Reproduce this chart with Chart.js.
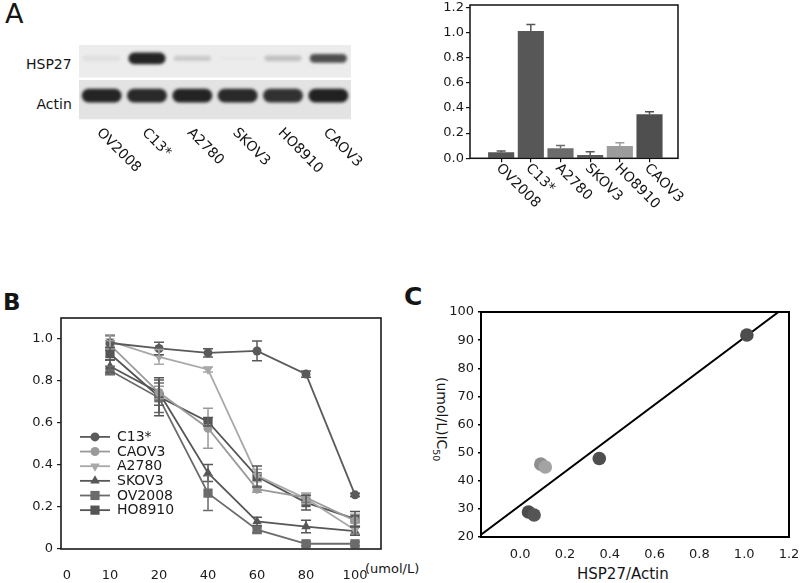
<!DOCTYPE html>
<html><head><meta charset="utf-8">
<script src="https://cdn.jsdelivr.net/npm/chart.js"></script>
<style>
html,body{margin:0;padding:0;background:#fff}
body{width:800px;height:583px;position:relative;overflow:hidden;font-family:"DejaVu Sans",sans-serif;color:#151515}
canvas{position:absolute}
.t{position:absolute;white-space:nowrap;line-height:1}
</style></head><body>
<div class="t" style="left:5px;top:0px;font-size:27px">A</div>
<div class="t" style="left:3px;top:290.6px;font-size:23px;font-weight:bold">B</div>
<div class="t" style="left:404px;top:283.8px;font-size:25px;font-weight:bold">C</div>
<div class="t" style="left:26px;top:56.7px;font-size:14px">HSP27</div>
<div class="t" style="left:36.5px;top:96.7px;font-size:14px">Actin</div>
<div class="t" style="left:365px;top:561.8px;font-size:13px">(umol/L)</div>
<div class="t" style="left:577px;top:567.2px;font-size:15px">HSP27/Actin</div>
<div class="t" style="left:448.6px;top:377px;font-size:14px;transform:rotate(90deg);transform-origin:0 0">(umol/L)IC<sub style="font-size:9.5px">50</sub></div>
<canvas id="blot" width="330" height="135" style="left:79px;top:45px"></canvas>
<canvas id="bar" width="260" height="220" style="left:430px;top:0px"></canvas>
<canvas id="dose" width="400" height="283" style="left:0px;top:300px"></canvas>
<canvas id="corr" width="400" height="293" style="left:400px;top:290px"></canvas>
<script>
// ---------- data ----------
const cellLines = ['OV2008','C13*','A2780','SKOV3','HO8910','CAOV3'];
// western blot band darkness (0..1) and HSP27 band thickness (row units)
const hsp27Band = [0.06, 0.95, 0.16, 0.02, 0.2, 0.75];
const hsp27BandSize = [0.14, 0.32, 0.14, 0.1, 0.15, 0.24];
const actinBand = [0.92, 0.9, 0.93, 0.9, 0.86, 0.94];
// HSP27/Actin ratio
const hsp27Ratio = [0.048, 1.011, 0.079, 0.026, 0.098, 0.349];
const hsp27Err = [0.01, 0.052, 0.022, 0.026, 0.026, 0.02];
// dose-response
const doseLabels = ['0','10','20','40','60','80','100'];
const seriesNames = ['C13*','CAOV3','A2780','SKOV3','OV2008','HO8910'];
const c13Viab    = [0.981, 0.955, 0.934, 0.943, 0.833, 0.258];
const caov3Viab  = [0.972, 0.745, 0.575, 0.285, 0.245, 0.135];
const a2780Viab  = [0.990, 0.915, 0.855, 0.350, 0.240, 0.090];
const skov3Viab  = [0.870, 0.745, 0.362, 0.131, 0.107, 0.085];
const ov2008Viab = [0.850, 0.720, 0.266, 0.092, 0.025, 0.025];
const ho8910Viab = [0.930, 0.725, 0.606, 0.345, 0.221, 0.143];
const c13Err    = [0.035, 0.03, 0.02, 0.047, 0.015, 0.008];
const caov3Err  = [0.02, 0.03, 0.095, 0.015, 0.02, 0.03];
const a2780Err  = [0.03, 0.035, 0.012, 0.03, 0.025, 0.02];
const skov3Err  = [0.03, 0.06, 0.04, 0.02, 0.03, 0.02];
const ov2008Err = [0.02, 0.07, 0.083, 0.015, 0.01, 0.01];
const ho8910Err = [0.03, 0.09, 0.02, 0.05, 0.035, 0.035];
// correlation
const corrRatio = [1.012, 0.353, 0.092, 0.112, 0.037, 0.062];
const ic50      = [91.8, 47.9, 45.9, 44.9, 28.9, 27.8];
const fitX = [-0.175, 1.153];
const fitY = [20.8, 100];
const corrTicksX = [0, 0.2, 0.4, 0.6, 0.8, 1.0, 1.2];

// ---------- styles ----------
const viability = [c13Viab, caov3Viab, a2780Viab, skov3Viab, ov2008Viab, ho8910Viab];
const viabErr = [c13Err, caov3Err, a2780Err, skov3Err, ov2008Err, ho8910Err];
const seriesStyle = [
  {color:'#5a5a5a', shape:'circle', r:4.5, rot:0},
  {color:'#9a9a9a', shape:'circle', r:4.5, rot:0},
  {color:'#a8a8a8', shape:'triangle', r:5.5, rot:180},
  {color:'#575757', shape:'triangle', r:5.5, rot:0},
  {color:'#6b6b6b', shape:'rect', r:6.5, rot:0},
  {color:'#555555', shape:'rect', r:6.5, rot:0}
];
const barColors = ['#555555','#575757','#6b6b6b','#595959','#9c9c9c','#4f4f4f'];
const corrColors = ['#4d4d4d','#4f4f4f','#8f8f8f','#a3a3a3','#4c4c4c','#555555'];
const FONT = '"DejaVu Sans", sans-serif';

Chart.defaults.font.family = FONT;
Chart.defaults.color = '#1a1a1a';
Chart.defaults.animation = false;
Chart.defaults.responsive = false;
Chart.defaults.devicePixelRatio = 1;
Chart.defaults.plugins.legend.display = false;
Chart.defaults.plugins.tooltip.enabled = false;

function sizeY(w){return s=>{s.width=w;s.paddingTop=0;s.paddingBottom=0;s.paddingLeft=0;s.paddingRight=0;};}
function sizeX(h){return s=>{s.height=h;s.paddingTop=0;s.paddingBottom=0;s.paddingLeft=0;s.paddingRight=0;};}
function frame(lw,color){return {id:'frame',afterDraw(c){const a=c.chartArea,x=c.ctx;x.save();x.strokeStyle=color;x.lineWidth=lw;x.strokeRect(a.left,a.top,a.right-a.left,a.bottom-a.top);x.restore();}};}
function rotLabels(dx,dy,size){return {id:'rotLabels',afterDraw(c){const ctx=c.ctx,xs=c.scales.x,a=c.chartArea;ctx.save();ctx.font=size+'px '+FONT;ctx.fillStyle='#151515';ctx.textAlign='left';ctx.textBaseline='top';cellLines.forEach((n,i)=>{ctx.save();ctx.translate(xs.getPixelForValue(i)+dx,a.bottom+dy);ctx.rotate(Math.PI/4);ctx.fillText(n,0,0);ctx.restore();});ctx.restore();}};}
function marker(ctx,st,x,y){ctx.fillStyle=st.color;ctx.beginPath();const r=st.r;
  if(st.shape==='circle'){ctx.arc(x,y,r,0,Math.PI*2);}
  else if(st.shape==='rect'){const s=r*Math.SQRT1_2;ctx.rect(x-s,y-s,2*s,2*s);}
  else {let rad=st.rot*Math.PI/180;ctx.moveTo(x+Math.sin(rad)*r,y-Math.cos(rad)*r);rad+=2*Math.PI/3;ctx.lineTo(x+Math.sin(rad)*r,y-Math.cos(rad)*r);rad+=2*Math.PI/3;ctx.lineTo(x+Math.sin(rad)*r,y-Math.cos(rad)*r);ctx.closePath();}
  ctx.fill();}

// ---------- blot ----------
const blotBg = {id:'blotBg',
  beforeDatasetsDraw(c){const ctx=c.ctx,a=c.chartArea,y=c.scales.y;ctx.save();
    ctx.fillStyle='#ececec';ctx.fillRect(a.left,y.getPixelForValue(2),a.right-a.left,y.getPixelForValue(1.12)-y.getPixelForValue(2));
    ctx.fillStyle='#e3e3e3';ctx.fillRect(a.left,y.getPixelForValue(1.058),a.right-a.left,y.getPixelForValue(0)-y.getPixelForValue(1.058));
    ctx.filter='blur(1.6px)';},
  afterDatasetsDraw(c){c.ctx.restore();}};
new Chart(document.getElementById('blot'),{
  type:'bar',
  data:{labels:cellLines,datasets:[
    {label:'HSP27',data:hsp27Band.map((d,i)=>[1.64-hsp27BandSize[i]/2,1.64+hsp27BandSize[i]/2]),backgroundColor:hsp27Band.map(d=>'rgba(25,25,25,'+d+')'),grouped:false,barPercentage:0.82,categoryPercentage:1,borderRadius:9,borderSkipped:false},
    {label:'Actin',data:actinBand.map(()=>[0.45,0.82]),backgroundColor:actinBand.map(d=>'rgba(20,20,20,'+d+')'),grouped:false,barPercentage:0.88,categoryPercentage:1,borderRadius:8,borderSkipped:false}
  ]},
  options:{layout:{padding:{top:0,left:0,right:58,bottom:60.7}},scales:{x:{display:false},y:{display:false,min:0,max:2}}},
  plugins:[blotBg,rotLabels(2,6.5,14)]
});

// ---------- bar chart ----------
const barErr = {id:'barErr',afterDatasetsDraw(c){const ctx=c.ctx,ys=c.scales.y,meta=c.getDatasetMeta(0);ctx.save();ctx.lineWidth=1.5;
  meta.data.forEach((b,i)=>{const top=ys.getPixelForValue(hsp27Ratio[i]+hsp27Err[i]);ctx.strokeStyle=barColors[i];ctx.beginPath();ctx.moveTo(b.x,b.y);ctx.lineTo(b.x,top);ctx.moveTo(b.x-4.5,top);ctx.lineTo(b.x+4.5,top);ctx.stroke();});ctx.restore();}};
new Chart(document.getElementById('bar'),{
  type:'bar',
  data:{datasets:[{data:hsp27Ratio.map((v,i)=>({x:i,y:v})),backgroundColor:barColors,barPercentage:0.88,categoryPercentage:1}]},
  options:{layout:{padding:{top:5,right:12,left:0,bottom:0}},
    scales:{
      x:{type:'linear',min:-1.05,max:5.96,offset:false,grid:{offset:false,drawOnChartArea:false,tickLength:4,color:'#111',lineWidth:1.2},border:{display:false},ticks:{display:false},
         afterBuildTicks:s=>{s.ticks=cellLines.map((_,i)=>({value:i}));},afterFit:sizeX(61.7)},
      y:{min:0,max:1.217,ticks:{stepSize:0.2,includeBounds:false,callback:v=>v.toFixed(1),font:{size:13},padding:2},grid:{drawOnChartArea:false,tickLength:4,color:'#111',lineWidth:1.2},border:{display:false},afterFit:sizeY(40)}
    }},
  plugins:[frame(1.5,'#111'),barErr,rotLabels(2,3,14)]
});

// ---------- dose response ----------
const doseErr = {id:'doseErr',afterDatasetsDraw(c){const ctx=c.ctx,ys=c.scales.y;ctx.save();ctx.lineWidth=1.5;
  viability.forEach((vals,k)=>{const meta=c.getDatasetMeta(k);ctx.strokeStyle=seriesStyle[k].color;
    meta.data.forEach((p,i)=>{const t=ys.getPixelForValue(vals[i]+viabErr[k][i]),b=ys.getPixelForValue(vals[i]-viabErr[k][i]);
      ctx.beginPath();ctx.moveTo(p.x,t);ctx.lineTo(p.x,b);ctx.moveTo(p.x-5,t);ctx.lineTo(p.x+5,t);ctx.moveTo(p.x-5,b);ctx.lineTo(p.x+5,b);ctx.stroke();});});
  ctx.restore();}};
const doseLegend = {id:'doseLegend',afterDraw(c){const ctx=c.ctx;ctx.save();ctx.font='14px '+FONT;ctx.textBaseline='middle';ctx.textAlign='left';
  seriesNames.forEach((n,k)=>{const st=seriesStyle[k];const y=136.9+k*14.65;ctx.strokeStyle=st.color;ctx.lineWidth=1.8;ctx.beginPath();ctx.moveTo(80,y);ctx.lineTo(110,y);ctx.stroke();marker(ctx,st,95,y);ctx.fillStyle='#1a1a1a';ctx.fillText(n,117,y+0.5);});
  ctx.restore();}};
new Chart(document.getElementById('dose'),{
  type:'line',
  data:{datasets:seriesNames.map((name,k)=>{const st=seriesStyle[k];return {label:name,data:viability[k].map((v,i)=>({x:i+1,y:v})),borderColor:st.color,backgroundColor:st.color,pointBackgroundColor:st.color,pointBorderColor:st.color,pointBorderWidth:0,pointStyle:st.shape,pointRadius:st.r,pointRotation:st.rot,borderWidth:1.8,tension:0,fill:false};})},
  options:{layout:{padding:{top:18,right:19,left:0,bottom:0}},
    scales:{
      x:{type:'linear',min:0,max:6.53,grid:{display:false},border:{display:false},ticks:{font:{size:13},padding:11.2,autoSkip:false,maxRotation:0,callback:(v,i)=>doseLabels[i]},
         afterBuildTicks:s=>{s.ticks=doseLabels.map((_,i)=>({value:i===0?0.12:i}));},afterFit:sizeX(34)},
      y:{min:0,max:1.1,ticks:{stepSize:0.2,includeBounds:false,font:{size:13},padding:4,callback:v=>v===0?'0':v.toFixed(1)},grid:{drawOnChartArea:false,tickLength:4,color:'#222',lineWidth:1.2},border:{display:false},afterFit:sizeY(61)}
    }},
  plugins:[frame(1.6,'#1a1a1a'),doseErr,doseLegend]
});

// ---------- correlation ----------
new Chart(document.getElementById('corr'),{
  type:'scatter',
  data:{datasets:[
    {data:corrRatio.map((x,i)=>({x:x,y:ic50[i]})),pointBackgroundColor:corrColors,pointBorderColor:corrColors,pointBorderWidth:0,pointRadius:6.8},
    {type:'line',data:fitX.map((x,i)=>({x:x,y:fitY[i]})),borderColor:'#000',borderWidth:2,pointRadius:0,showLine:true,fill:false}
  ]},
  options:{layout:{padding:{top:22,right:11,left:0,bottom:0}},
    scales:{
      x:{type:'linear',min:-0.175,max:1.2,grid:{display:false},border:{display:false},ticks:{font:{size:13},padding:1.9,maxRotation:0,autoSkip:false,callback:v=>v.toFixed(1)},
         afterBuildTicks:s=>{s.ticks=corrTicksX.map(v=>({value:v}));},afterFit:sizeX(46)},
      y:{min:20,max:100,ticks:{stepSize:10,font:{size:13},padding:4},grid:{drawOnChartArea:false,tickLength:3,color:'#000',lineWidth:1.5},border:{display:false},afterFit:sizeY(81)}
    }},
  plugins:[frame(2,'#000')]
});
</script>
</body></html>
